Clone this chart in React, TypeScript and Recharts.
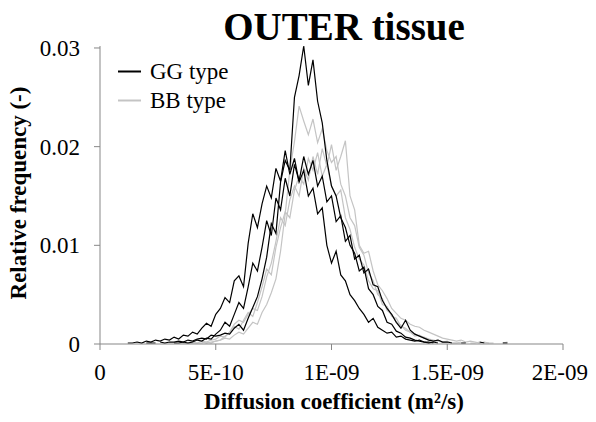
import React from "react"
import { LineChart, Line, XAxis, YAxis } from "recharts"

// bin centres of the diffusion coefficient histogram (m²/s)
const diffusion = [
  1.2e-10, 1.4e-10, 1.6e-10, 1.8e-10, 2.0e-10, 2.2e-10, 2.4e-10, 2.6e-10, 2.8e-10, 3.0e-10,
  3.2e-10, 3.4e-10, 3.6e-10, 3.8e-10, 4.0e-10, 4.2e-10, 4.4e-10, 4.6e-10, 4.8e-10, 5.0e-10,
  5.2e-10, 5.4e-10, 5.6e-10, 5.8e-10, 6.0e-10, 6.2e-10, 6.4e-10, 6.6e-10, 6.8e-10, 7.0e-10,
  7.2e-10, 7.4e-10, 7.6e-10, 7.8e-10, 8.0e-10, 8.2e-10, 8.4e-10, 8.6e-10, 8.8e-10, 9.0e-10,
  9.2e-10, 9.4e-10, 9.6e-10, 9.8e-10, 1.0e-9, 1.02e-9, 1.04e-9, 1.06e-9, 1.08e-9, 1.1e-9,
  1.12e-9, 1.14e-9, 1.16e-9, 1.18e-9, 1.2e-9, 1.22e-9, 1.24e-9, 1.26e-9, 1.28e-9, 1.3e-9,
  1.32e-9, 1.34e-9, 1.36e-9, 1.38e-9, 1.4e-9, 1.42e-9, 1.44e-9, 1.46e-9, 1.48e-9, 1.5e-9,
  1.52e-9, 1.54e-9, 1.56e-9, 1.58e-9, 1.6e-9, 1.62e-9, 1.64e-9, 1.66e-9, 1.68e-9, 1.7e-9,
  1.72e-9, 1.74e-9, 1.76e-9, 1.78e-9, 1.8e-9,
]

// GG type samples (black)
const gg1 = [
  null, null, 0.0001, null, 0.0001, 0.0001, null, 0.0002, 0.0001, 0.0002,
  0.0002, 0.0003, 0.0002, 0.0004, 0.0003, 0.0005, 0.0006, 0.0005, 0.0009, 0.0008,
  0.0009, 0.0011, 0.0010, 0.0016, 0.0020, 0.0014, 0.0026, 0.0037, 0.0048, 0.0066,
  0.0088, 0.0122, 0.0112, 0.0164, 0.0186, 0.0176, 0.0250, 0.0272, 0.0302, 0.0262,
  0.0288, 0.0246, 0.0224, 0.0186, 0.0160, 0.0150, 0.0128, 0.0118, 0.0100, 0.0092,
  0.0074, 0.0078, 0.0056, 0.0050, 0.0038, 0.0034, 0.0022, 0.0020, 0.0013, 0.0011,
  0.0007, 0.0006, 0.0004, 0.0003, 0.0002, 0.0002, 0.0001, null, null, null,
  null, null, null, null, null, null, null, null, null, null,
  null, null, null, null, null,
]
const gg2 = [
  0.0001, 0.0001, 0.0002, 0.0001, 0.0003, 0.0002, 0.0004, 0.0003, 0.0005, 0.0004,
  0.0007, 0.0005, 0.0009, 0.0008, 0.0012, 0.0010, 0.0016, 0.0021, 0.0018, 0.0030,
  0.0036, 0.0047, 0.0042, 0.0064, 0.0069, 0.0058, 0.0102, 0.0132, 0.0118, 0.0142,
  0.0160, 0.0148, 0.0178, 0.0165, 0.0196, 0.0172, 0.0188, 0.0164, 0.0176, 0.0150,
  0.0158, 0.0132, 0.0138, 0.0100, 0.0082, 0.0094, 0.0070, 0.0064, 0.0050, 0.0044,
  0.0036, 0.0030, 0.0022, 0.0026, 0.0017, 0.0014, 0.0011, 0.0012, 0.0007, 0.0008,
  0.0005, 0.0004, 0.0003, 0.0004, 0.0002, 0.0001, 0.0002, 0.0001, null, null,
  null, null, null, null, null, null, null, null, null, null,
  null, null, null, null, null,
]
const gg3 = [
  null, null, null, null, null, 0.0001, 0.0001, null, 0.0001, null,
  0.0001, 0.0001, 0.0002, 0.0001, 0.0002, 0.0004, 0.0003, 0.0006, 0.0005, 0.0010,
  0.0014, 0.0022, 0.0018, 0.0030, 0.0042, 0.0036, 0.0058, 0.0082, 0.0074, 0.0098,
  0.0125, 0.0110, 0.0148, 0.0136, 0.0168, 0.0150, 0.0182, 0.0165, 0.0190, 0.0172,
  0.0186, 0.0160, 0.0170, 0.0144, 0.0150, 0.0124, 0.0130, 0.0104, 0.0110, 0.0086,
  0.0090, 0.0072, 0.0076, 0.0060, 0.0058, 0.0044, 0.0036, 0.0030, 0.0022, 0.0016,
  0.0024, 0.0014, 0.0010, 0.0008, 0.0006, 0.0004, 0.0003, 0.0004, 0.0002, 0.0002,
  0.0001, null, 0.0001, 0.0001, null, null, 0.0002, 0.0001, null, null,
  null, 0.0001, 0.0001, null, null,
]

// BB type samples (grey)
const bb1 = [
  null, null, null, null, null, null, null, null, null, null,
  null, null, 0.0001, 0.0001, 0.0001, null, 0.0002, 0.0001, 0.0002, 0.0003,
  0.0004, 0.0006, 0.0005, 0.0009, 0.0012, 0.0010, 0.0016, 0.0022, 0.0020, 0.0032,
  0.0040, 0.0052, 0.0066, 0.0094, 0.0132, 0.0176, 0.0205, 0.0241, 0.0226, 0.0212,
  0.0228, 0.0204, 0.0218, 0.0196, 0.0184, 0.0190, 0.0162, 0.0150, 0.0128, 0.0120,
  0.0098, 0.0090, 0.0072, 0.0064, 0.0050, 0.0046, 0.0034, 0.0030, 0.0022, 0.0019,
  0.0014, 0.0012, 0.0008, 0.0009, 0.0006, 0.0005, 0.0003, 0.0004, 0.0002, 0.0002,
  0.0001, 0.0001, 0.0001, null, null, 0.0001, 0.0002, null, null, null,
  null, 0.0001, 0.0001, null, null,
]
const bb2 = [
  null, null, null, null, null, null, null, null, null, null,
  null, null, null, 0.0001, 0.0001, 0.0001, 0.0001, 0.0002, 0.0001, 0.0003,
  0.0004, 0.0008, 0.0012, 0.0020, 0.0024, 0.0022, 0.0030, 0.0036, 0.0034, 0.0048,
  0.0068, 0.0082, 0.0104, 0.0128, 0.0120, 0.0146, 0.0160, 0.0150, 0.0178, 0.0166,
  0.0190, 0.0172, 0.0198, 0.0180, 0.0202, 0.0176, 0.0190, 0.0206, 0.0150, 0.0136,
  0.0100, 0.0092, 0.0094, 0.0074, 0.0060, 0.0054, 0.0046, 0.0036, 0.0031, 0.0026,
  0.0024, 0.0020, 0.0018, 0.0017, 0.0014, 0.0012, 0.0010, 0.0008, 0.0006, 0.0005,
  0.0004, 0.0003, 0.0004, 0.0002, 0.0003, 0.0002, 0.0001, 0.0002, 0.0001, 0.0001,
  null, 0.0001, 0.0002, null, null,
]
const bb3 = [
  null, null, null, null, null, null, null, null, null, null,
  null, 0.0001, 0.0001, 0.0001, 0.0002, 0.0001, 0.0003, 0.0002, 0.0004, 0.0005,
  0.0008, 0.0007, 0.0012, 0.0018, 0.0015, 0.0024, 0.0032, 0.0028, 0.0042, 0.0058,
  0.0076, 0.0070, 0.0098, 0.0118, 0.0134, 0.0128, 0.0156, 0.0170, 0.0162, 0.0188,
  0.0176, 0.0194, 0.0170, 0.0182, 0.0160, 0.0150, 0.0156, 0.0128, 0.0116, 0.0098,
  0.0086, 0.0080, 0.0064, 0.0056, 0.0054, 0.0040, 0.0038, 0.0028, 0.0026, 0.0018,
  0.0016, 0.0012, 0.0010, 0.0008, 0.0007, 0.0005, 0.0004, 0.0003, 0.0002, 0.0003,
  0.0001, 0.0001, 0.0002, null, 0.0001, 0.0001, null, 0.0001, 0.0001, null,
  null, null, null, null, null,
]

const xTicks = [0, 5e-10, 1e-9, 1.5e-9, 2e-9]
const xTickLabels = ["0", "5E-10", "1E-09", "1.5E-09", "2E-09"]
const yTicks = [0, 0.01, 0.02, 0.03]
const yTickLabels = ["0", "0.01", "0.02", "0.03"]
const legendItems = [
  { name: "GG type", color: "#000" },
  { name: "BB type", color: "#c4c4c4" },
]

const FONT = '"Times New Roman", Times, "Liberation Serif", serif'
const AXIS = "#878787"
const GREY = "#c4c4c4"

const rows = diffusion.map((x, i) => ({
  x,
  gg1: gg1[i],
  gg2: gg2[i],
  gg3: gg3[i],
  bb1: bb1[i],
  bb2: bb2[i],
  bb3: bb3[i],
}))

export default function App() {
  const tick = { fill: "#000", fontSize: 23, fontFamily: FONT, fontWeight: 400 }
  return (
    <div style={{ position: "relative", width: 580, height: 406, fontFamily: FONT }}>
      <div
        style={{
          position: "absolute", left: 136, top: 0, width: 400, textAlign: "center",
          fontSize: 39, lineHeight: "38px", fontWeight: "bold", color: "#000",
        }}
      >
        OUTER tissue
      </div>
      <div
        style={{
          position: "absolute", left: 110, top: 49, fontSize: 23, lineHeight: "29px",
          fontWeight: 400, color: "#000", zIndex: 1,
        }}
      >
        {legendItems.map((it) => (
          <div key={it.name} style={{ display: "flex", alignItems: "center" }}>
            <svg width={32} height={29}>
              <line x1={0} x2={23} y1={14.5} y2={14.5} stroke={it.color} strokeWidth={2} />
            </svg>
            <span>{it.name}</span>
          </div>
        ))}
      </div>
      <LineChart width={580} height={406} data={rows} margin={{ top: 38, right: 25, bottom: 0, left: 0 }}>
        <XAxis
          type="number"
          dataKey="x"
          domain={[0, 2e-9]}
          ticks={xTicks}
          tickFormatter={(v: number) => xTickLabels[xTicks.indexOf(v)]}
          tick={tick}
          tickSize={6}
          tickMargin={14}
          height={70}
          stroke={AXIS}
        />
        <YAxis
          type="number"
          domain={[0, 0.03]}
          ticks={yTicks}
          tickFormatter={(v: number) => yTickLabels[yTicks.indexOf(v)]}
          tick={tick}
          tickSize={6}
          tickMargin={14}
          width={92}
          stroke={AXIS}
        />
        <Line dataKey="bb1" stroke={GREY} strokeWidth={1.2} dot={false} isAnimationActive={false} />
        <Line dataKey="bb2" stroke={GREY} strokeWidth={1.2} dot={false} isAnimationActive={false} />
        <Line dataKey="bb3" stroke={GREY} strokeWidth={1.2} dot={false} isAnimationActive={false} />
        <Line dataKey="gg1" stroke="#000" strokeWidth={1.2} dot={false} isAnimationActive={false} />
        <Line dataKey="gg2" stroke="#000" strokeWidth={1.2} dot={false} isAnimationActive={false} />
        <Line dataKey="gg3" stroke="#000" strokeWidth={1.2} dot={false} isAnimationActive={false} />
      </LineChart>
      <div
        style={{
          position: "absolute", left: 126, top: 381, width: 400, textAlign: "center",
          fontSize: 23, lineHeight: "26px", fontWeight: "bold", color: "#000",
        }}
      >
        Diffusion coefficient (m²/s)
      </div>
      <div
        style={{
          position: "absolute", left: 11 - 150, top: 185 - 13, width: 300, height: 26,
          textAlign: "center", fontSize: 23, lineHeight: "26px", fontWeight: "bold",
          color: "#000", transform: "rotate(-90deg)",
        }}
      >
        Relative frequency (-)
      </div>
    </div>
  )
}
